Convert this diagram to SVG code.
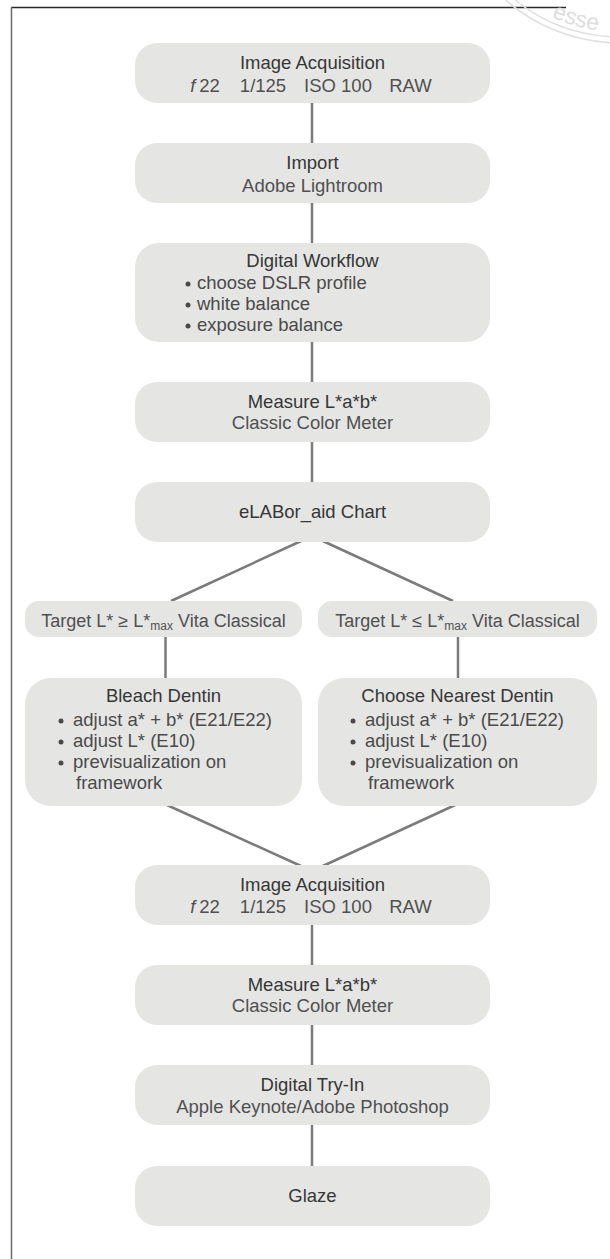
<svg xmlns="http://www.w3.org/2000/svg" width="610" height="1259" viewBox="0 0 610 1259">
<style>
.box{fill:#e5e6e4}
.t{font-family:"Liberation Sans",Arial,Helvetica,sans-serif;font-size:18.5px;fill:#363636;text-anchor:middle}
.s{fill:#505050}
.g{font-size:18px}
.l{text-anchor:start;fill:#4a4a4a}
.dot{fill:#4a4a4a}
.c{stroke:#7b7b7b;stroke-width:2.5;fill:none}
.wm{stroke:#e0e0e0;stroke-width:1.6;fill:none}
</style>
<rect width="610" height="1259" fill="#ffffff"/>
<g id="frame">
<line x1="11" y1="7.5" x2="566" y2="7.5" stroke="#2a2a2a" stroke-width="1.5"/>
<line x1="11.5" y1="7" x2="11.5" y2="1259" stroke="#6a6a6a" stroke-width="1.5"/>
</g>
<g id="watermark">
<defs><path id="wmp" d="M 515.2 -6.1 A 163 163 0 0 0 634.2 31.4"/></defs>
<path class="wm" d="M 505.5 0 A 174 174 0 0 0 610 42.7"/>
<path class="wm" d="M 515 0 A 168 168 0 0 0 610 36.7"/>
<text font-family="'Liberation Sans',Arial,sans-serif" font-size="23" fill="#dedede"><textPath href="#wmp" startOffset="43">esse</textPath></text>
</g>
<g id="connectors">
<line class="c" x1="312" y1="100" x2="312" y2="146"/>
<line class="c" x1="312" y1="200" x2="312" y2="246"/>
<line class="c" x1="312" y1="339" x2="312" y2="385"/>
<line class="c" x1="312" y1="439" x2="312" y2="485"/>
<line class="c" x1="312" y1="536" x2="171" y2="601"/>
<line class="c" x1="312" y1="536" x2="453" y2="601"/>
<line class="c" x1="165.5" y1="635" x2="165.5" y2="681"/>
<line class="c" x1="458" y1="635" x2="458" y2="681"/>
<line class="c" x1="156" y1="800" x2="312" y2="871"/>
<line class="c" x1="466" y1="800" x2="312" y2="871"/>
<line class="c" x1="312" y1="922" x2="312" y2="968"/>
<line class="c" x1="312" y1="1022" x2="312" y2="1068"/>
<line class="c" x1="312" y1="1122" x2="312" y2="1169"/>
</g>
<g id="n1">
<rect class="box" x="135" y="43" width="355" height="60" rx="22"/>
<text class="t" x="312.5" y="69">Image Acquisition</text>
<text class="t s" y="92"><tspan x="205" font-style="italic">f</tspan><tspan>&#8201;22</tspan><tspan x="263">1/125</tspan><tspan x="338">ISO 100</tspan><tspan x="410.5">RAW</tspan></text>
</g>
<g id="n2">
<rect class="box" x="135" y="143" width="355" height="60" rx="22"/>
<text class="t" x="312.5" y="169">Import</text>
<text class="t s" x="312.5" y="192">Adobe Lightroom</text>
</g>
<g id="n3">
<rect class="box" x="135" y="243" width="355" height="99" rx="24"/>
<text class="t" x="312.5" y="267">Digital Workflow</text>
<circle class="dot" cx="188" cy="284" r="2.5"/>
<circle class="dot" cx="188" cy="305" r="2.5"/>
<circle class="dot" cx="188" cy="326" r="2.5"/>
<text class="t l" x="197" y="289">choose DSLR profile</text>
<text class="t l" x="197" y="310">white balance</text>
<text class="t l" x="197" y="331">exposure balance</text>
</g>
<g id="n4">
<rect class="box" x="135" y="382" width="355" height="60" rx="22"/>
<text class="t" x="312.5" y="408">Measure L*a*b*</text>
<text class="t s" x="312.5" y="429">Classic Color Meter</text>
</g>
<g id="n5">
<rect class="box" x="135" y="482" width="355" height="60" rx="22"/>
<text class="t" x="312.5" y="518">eLABor_aid Chart</text>
</g>
<g id="t1">
<rect class="box" x="25" y="601" width="277" height="36" rx="14"/>
<text class="t s g" x="163.5" y="627">Target L* ≥ L*<tspan font-size="12" dy="3">max</tspan><tspan dy="-3"> Vita Classical</tspan></text>
</g>
<g id="t2">
<rect class="box" x="318" y="601" width="279" height="36" rx="14"/>
<text class="t s g" x="457.5" y="627">Target L* ≤ L*<tspan font-size="12" dy="3">max</tspan><tspan dy="-3"> Vita Classical</tspan></text>
</g>
<g id="bleach">
<rect class="box" x="25" y="678" width="277" height="128" rx="26"/>
<text class="t" x="163.5" y="702">Bleach Dentin</text>
<circle class="dot" cx="61" cy="721" r="2.5"/>
<circle class="dot" cx="61" cy="742" r="2.5"/>
<circle class="dot" cx="61" cy="763" r="2.5"/>
<text class="t l" x="73" y="726">adjust a* + b* (E21/E22)</text>
<text class="t l" x="73" y="747">adjust L* (E10)</text>
<text class="t l" x="73" y="768">previsualization on</text>
<text class="t l" x="76" y="789">framework</text>
</g>
<g id="choose">
<rect class="box" x="318" y="678" width="279" height="128" rx="26"/>
<text class="t" x="457.5" y="702">Choose Nearest Dentin</text>
<circle class="dot" cx="353" cy="721" r="2.5"/>
<circle class="dot" cx="353" cy="742" r="2.5"/>
<circle class="dot" cx="353" cy="763" r="2.5"/>
<text class="t l" x="365" y="726">adjust a* + b* (E21/E22)</text>
<text class="t l" x="365" y="747">adjust L* (E10)</text>
<text class="t l" x="365" y="768">previsualization on</text>
<text class="t l" x="368" y="789">framework</text>
</g>
<g id="n6">
<rect class="box" x="135" y="865" width="355" height="60" rx="22"/>
<text class="t" x="312.5" y="891">Image Acquisition</text>
<text class="t s" y="913"><tspan x="205" font-style="italic">f</tspan><tspan>&#8201;22</tspan><tspan x="263">1/125</tspan><tspan x="338">ISO 100</tspan><tspan x="410.5">RAW</tspan></text>
</g>
<g id="n7">
<rect class="box" x="135" y="965" width="355" height="60" rx="22"/>
<text class="t" x="312.5" y="991">Measure L*a*b*</text>
<text class="t s" x="312.5" y="1012">Classic Color Meter</text>
</g>
<g id="n8">
<rect class="box" x="135" y="1065" width="355" height="60" rx="22"/>
<text class="t" x="312.5" y="1091">Digital Try-In</text>
<text class="t s" x="312.5" y="1113">Apple Keynote/Adobe Photoshop</text>
</g>
<g id="n9">
<rect class="box" x="135" y="1166" width="355" height="60" rx="22"/>
<text class="t" x="312.5" y="1202">Glaze</text>
</g>
</svg>
